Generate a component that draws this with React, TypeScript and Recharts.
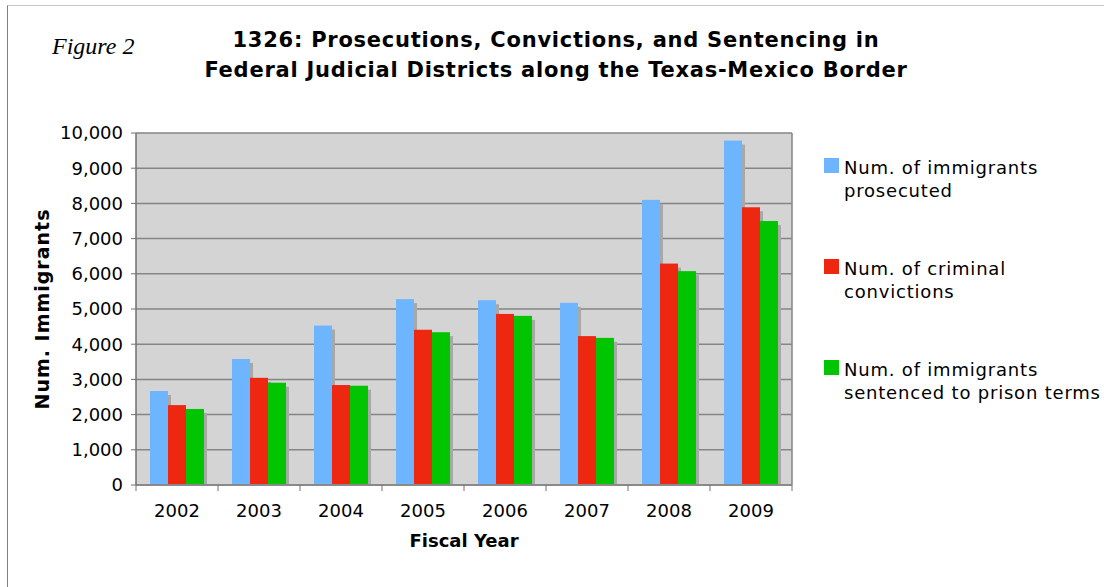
import React from "react";
import { BarChart, Bar, XAxis, YAxis, CartesianGrid, Legend } from "recharts";

const years = ["2002", "2003", "2004", "2005", "2006", "2007", "2008", "2009"];
const prosecuted = [2670, 3580, 4530, 5280, 5250, 5175, 8100, 9785];
const convictions = [2270, 3045, 2840, 4410, 4860, 4230, 6290, 7890];
const sentenced = [2160, 2905, 2820, 4340, 4805, 4180, 6075, 7500];
const yTicks = [0, 1000, 2000, 3000, 4000, 5000, 6000, 7000, 8000, 9000, 10000];

const seriesInfo = [
  { key: "prosecuted", color: "#6db6ff", lines: ["Num. of immigrants", "prosecuted"] },
  { key: "convictions", color: "#ee2711", lines: ["Num. of criminal", "convictions"] },
  { key: "sentenced", color: "#00c500", lines: ["Num. of immigrants", "sentenced to prison terms"] },
];

const data = years.map((year, i) => ({
  year,
  prosecuted: prosecuted[i],
  convictions: convictions[i],
  sentenced: sentenced[i],
}));

const FONT = "'DejaVu Sans', Verdana, sans-serif";

// bar with the grey drop shadow to the lower right
const ShadowBar = (props: any) => {
  const { x, y, width, height, fill } = props;
  if (!height || height <= 0) return null;
  return (
    <g>
      <rect x={x + 3} y={y + 4} width={width} height={height - 4} fill="#a8a8a8" />
      <rect x={x} y={y} width={width} height={height} fill={fill} />
    </g>
  );
};

// year label, plus tick marks on the category boundaries
const YearTick = (props: any) => {
  const { x, y, payload, index } = props;
  const half = payload.offset || 0;
  const top = y - 32;
  return (
    <g>
      <line x1={x - half} x2={x - half} y1={top} y2={top + 6} stroke="#707070" />
      {index === years.length - 1 && (
        <line x1={x + half} x2={x + half} y1={top} y2={top + 6} stroke="#707070" />
      )}
      <text x={x} y={y} textAnchor="middle" fill="#000" fontSize={18} fontFamily={FONT}>
        {payload.value}
      </text>
    </g>
  );
};

const LegendBox = () => (
  <div style={{ display: "flex", flexDirection: "column", gap: 55, fontFamily: FONT, fontSize: 18, letterSpacing: 0.8, lineHeight: "23px", color: "#000" }}>
    {seriesInfo.map((s) => (
      <div key={s.key} style={{ display: "flex", alignItems: "flex-start" }}>
        <div style={{ width: 15, height: 15, background: s.color, marginTop: 2, marginRight: 5 }} />
        <div>
          {s.lines.map((l) => (
            <div key={l} style={{ whiteSpace: "nowrap" }}>{l}</div>
          ))}
        </div>
      </div>
    ))}
  </div>
);

export default function App() {
  return (
    <div style={{ position: "absolute", left: 0, top: 0, width: 1104, height: 587, background: "#fff", overflow: "hidden" }}>
      <div style={{ position: "absolute", left: 7, top: 5, right: -5, bottom: -5, borderTop: "1px solid #c8c8c8", borderLeft: "1px solid #808080" }} />
      <div style={{ position: "absolute", left: 52, top: 34, fontFamily: "'Liberation Serif', 'Times New Roman', serif", fontStyle: "italic", fontSize: 24, lineHeight: "24px", whiteSpace: "nowrap" }}>
        Figure 2
      </div>
      <div style={{ position: "absolute", left: 106, width: 900, top: 25, textAlign: "center", fontFamily: FONT, fontWeight: "bold", fontSize: 21, letterSpacing: 0.75, lineHeight: "30px", color: "#000" }}>
        <div>1326: Prosecutions, Convictions, and Sentencing in</div>
        <div>Federal Judicial Districts along the Texas-Mexico Border</div>
      </div>
      <div style={{ position: "absolute", left: 0, top: 0 }}>
        <BarChart
          width={1104}
          height={587}
          data={data}
          margin={{ top: 133, right: 312, left: 30, bottom: 32 }}
          barGap={0}
          barSize={18}
        >
          <CartesianGrid
            fill="#d4d4d4"
            stroke="#858585"
            strokeWidth={1.5}
            verticalCoordinatesGenerator={({ offset }: any) => [offset.left + offset.width]}
          />
          <XAxis
            dataKey="year"
            height={70}
            tickLine={false}
            tickSize={6}
            tickMargin={26}
            tick={<YearTick />}
            axisLine={{ stroke: "#8a8a8a", strokeWidth: 2 }}
            label={{ value: "Fiscal Year", position: "insideBottom", offset: 8, fill: "#000", fontSize: 18, fontWeight: "bold", fontFamily: FONT }}
          />
          <YAxis
            width={106}
            domain={[0, 10000]}
            ticks={yTicks}
            interval={0}
            tickSize={5}
            tickMargin={8}
            tickFormatter={(v: number) => v.toLocaleString("en-US")}
            tick={{ fill: "#000", fontSize: 18, fontFamily: FONT }}
            tickLine={{ stroke: "#707070" }}
            axisLine={{ stroke: "#707070", strokeWidth: 1.5 }}
            label={{ value: "Num. Immigrants", angle: -90, position: "insideLeft", offset: 12, fill: "#000", fontSize: 19, fontWeight: "bold", fontFamily: FONT, letterSpacing: 1, style: { textAnchor: "middle" } }}
          />
          {seriesInfo.map((s) => (
            <Bar key={s.key} dataKey={s.key} fill={s.color} shape={<ShadowBar />} isAnimationActive={false} />
          ))}
          <Legend
            layout="vertical"
            align="center"
            verticalAlign="middle"
            content={<LegendBox />}
            wrapperStyle={{ position: "absolute", left: 824, top: 156, width: 280 }}
          />
        </BarChart>
      </div>
    </div>
  );
}
